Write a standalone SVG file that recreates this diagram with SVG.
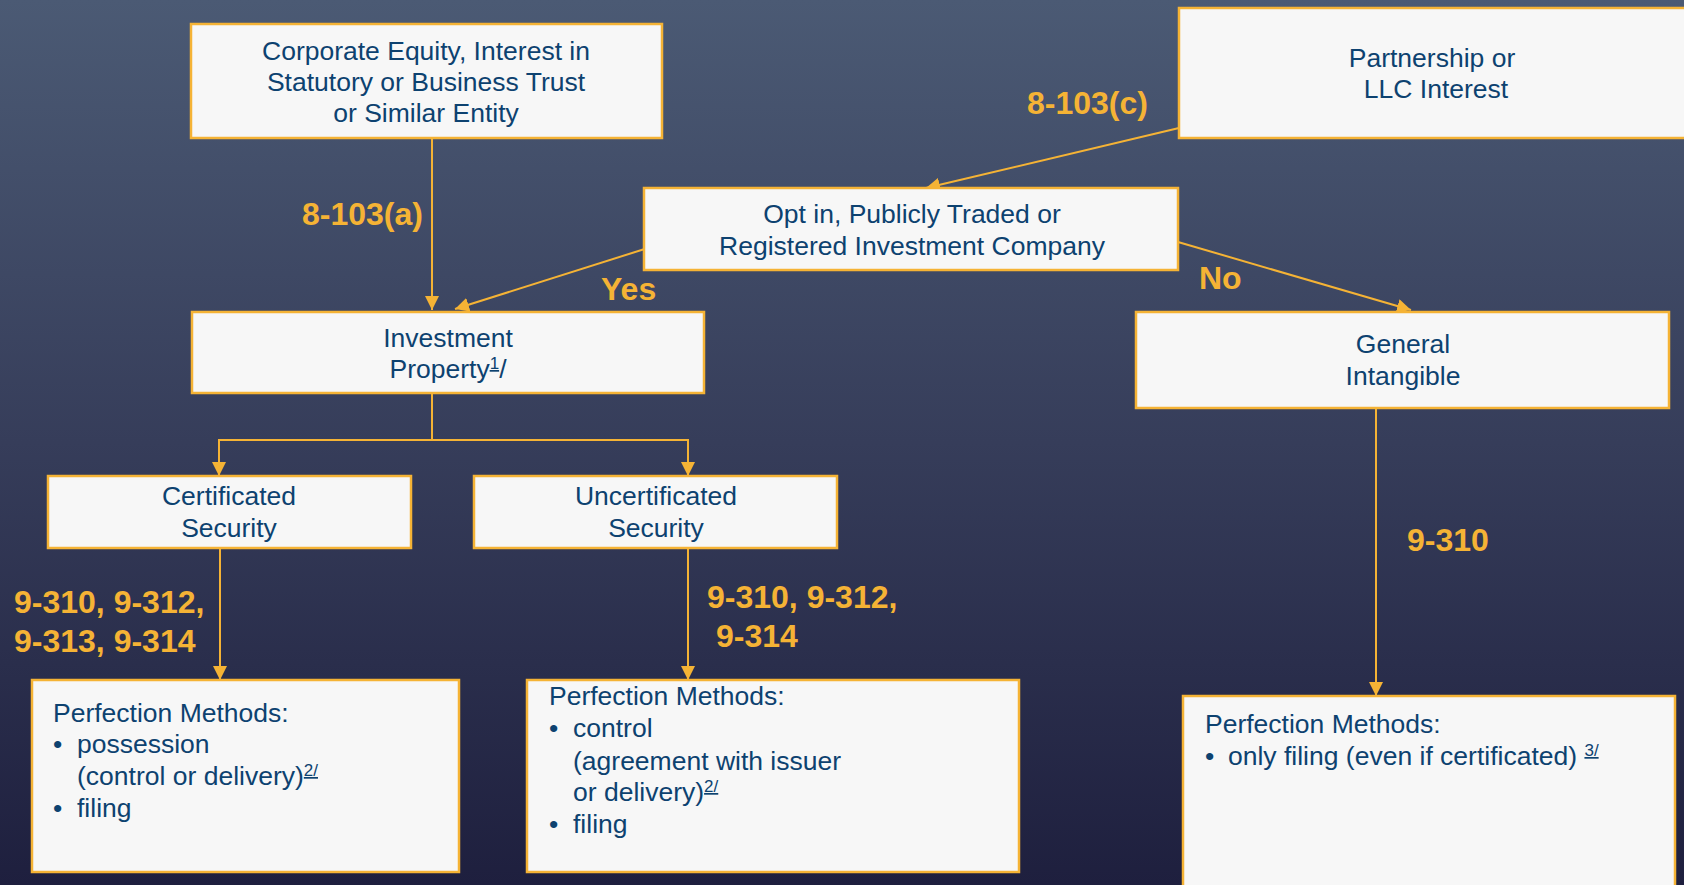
<svg xmlns="http://www.w3.org/2000/svg" width="1684" height="885" viewBox="0 0 1684 885">
<defs>
<linearGradient id="bg" x1="0" y1="0" x2="0" y2="1">
<stop offset="0" stop-color="#4b5a74"/>
<stop offset="0.5" stop-color="#363d5a"/>
<stop offset="1" stop-color="#1e1f3e"/>
</linearGradient>
<marker id="arr" viewBox="0 0 14 14" markerWidth="14" markerHeight="14" refX="14" refY="7" orient="auto" markerUnits="userSpaceOnUse">
<path d="M0,0 L14,7 L0,14 z" fill="#f5b335"/>
</marker>
<style>
.box{fill:#f7f7f7;stroke:#f5b335;stroke-width:2.5}
.t{font-family:"Liberation Sans",Arial,sans-serif;font-size:26.5px;fill:#0d4270}
.c{text-anchor:middle}
.lbl{font-family:"Liberation Sans",Arial,sans-serif;font-size:32px;font-weight:bold;fill:#f5b335}
.con{fill:none;stroke:#f5b335;stroke-width:2}
.sup{font-size:17px}
</style>
</defs>
<rect x="0" y="0" width="1684" height="885" fill="url(#bg)"/>

<g id="connectors">
<line class="con" x1="432" y1="138" x2="432" y2="310" marker-end="url(#arr)"/>
<line class="con" x1="1179" y1="128" x2="926" y2="188" marker-end="url(#arr)"/>
<line class="con" x1="651" y1="247" x2="455" y2="309" marker-end="url(#arr)"/>
<line class="con" x1="1178" y1="242" x2="1411" y2="310" marker-end="url(#arr)"/>
<path class="con" d="M432,393 V440 H219 V476" marker-end="url(#arr)"/>
<path class="con" d="M432,440 H688 V476" marker-end="url(#arr)"/>
<line class="con" x1="220" y1="548" x2="220" y2="680" marker-end="url(#arr)"/>
<line class="con" x1="688" y1="548" x2="688" y2="680" marker-end="url(#arr)"/>
<line class="con" x1="1376" y1="408" x2="1376" y2="696" marker-end="url(#arr)"/>
<text class="lbl" x="1027" y="114">8-103(c)</text>
<text class="lbl" x="302" y="225">8-103(a)</text>
<text class="lbl" x="601" y="300">Yes</text>
<text class="lbl" x="1199" y="289">No</text>
<text class="lbl" x="14" y="613">9-310, 9-312,</text>
<text class="lbl" x="14" y="652">9-313, 9-314</text>
<text class="lbl" x="707" y="608">9-310, 9-312,</text>
<text class="lbl" x="716" y="647">9-314</text>
<text class="lbl" x="1407" y="551">9-310</text>
</g>

<g id="corporate">
<rect class="box" x="191" y="24" width="471" height="114"/>
<text class="t c" x="426" y="60">Corporate Equity, Interest in</text>
<text class="t c" x="426" y="91">Statutory or Business Trust</text>
<text class="t c" x="426" y="122">or Similar Entity</text>
</g>

<g id="partnership">
<rect class="box" x="1179" y="8" width="520" height="130"/>
<text class="t c" x="1432" y="67">Partnership or</text>
<text class="t c" x="1436" y="98">LLC Interest</text>
</g>

<g id="optin">
<rect class="box" x="644" y="188" width="534" height="82"/>
<text class="t c" x="912" y="223">Opt in, Publicly Traded or</text>
<text class="t c" x="912" y="255">Registered Investment Company</text>
</g>

<g id="investment">
<rect class="box" x="192" y="312" width="512" height="81"/>
<text class="t c" x="448" y="347">Investment</text>
<text class="t c" x="448" y="378">Property<tspan class="sup" dy="-9" text-decoration="underline">1</tspan><tspan dy="9">/</tspan></text>
</g>

<g id="general">
<rect class="box" x="1136" y="312" width="533" height="96"/>
<text class="t c" x="1403" y="353">General</text>
<text class="t c" x="1403" y="385">Intangible</text>
</g>

<g id="certificated">
<rect class="box" x="48" y="476" width="363" height="72"/>
<text class="t c" x="229" y="505">Certificated</text>
<text class="t c" x="229" y="537">Security</text>
</g>

<g id="uncertificated">
<rect class="box" x="474" y="476" width="363" height="72"/>
<text class="t c" x="656" y="505">Uncertificated</text>
<text class="t c" x="656" y="537">Security</text>
</g>

<g id="perf1">
<rect class="box" x="32" y="680" width="427" height="192"/>
<text class="t" x="53" y="722">Perfection Methods:</text>
<text class="t" x="53" y="753">•</text>
<text class="t" x="77" y="753">possession</text>
<text class="t" x="77" y="785">(control or delivery)<tspan class="sup" dy="-9" text-decoration="underline">2/</tspan></text>
<text class="t" x="53" y="817">•</text>
<text class="t" x="77" y="817">filing</text>
</g>

<g id="perf2">
<rect class="box" x="527" y="680" width="492" height="192"/>
<text class="t" x="549" y="705">Perfection Methods:</text>
<text class="t" x="549" y="737">•</text>
<text class="t" x="573" y="737">control</text>
<text class="t" x="573" y="770">(agreement with issuer</text>
<text class="t" x="573" y="801">or delivery)<tspan class="sup" dy="-9" text-decoration="underline">2/</tspan></text>
<text class="t" x="549" y="833">•</text>
<text class="t" x="573" y="833">filing</text>
</g>

<g id="perf3">
<rect class="box" x="1183" y="696" width="492" height="210"/>
<text class="t" x="1205" y="733">Perfection Methods:</text>
<text class="t" x="1205" y="765">•</text>
<text class="t" x="1228" y="765">only filing (even if certificated) <tspan class="sup" dy="-9" text-decoration="underline">3/</tspan></text>
</g>
</svg>
